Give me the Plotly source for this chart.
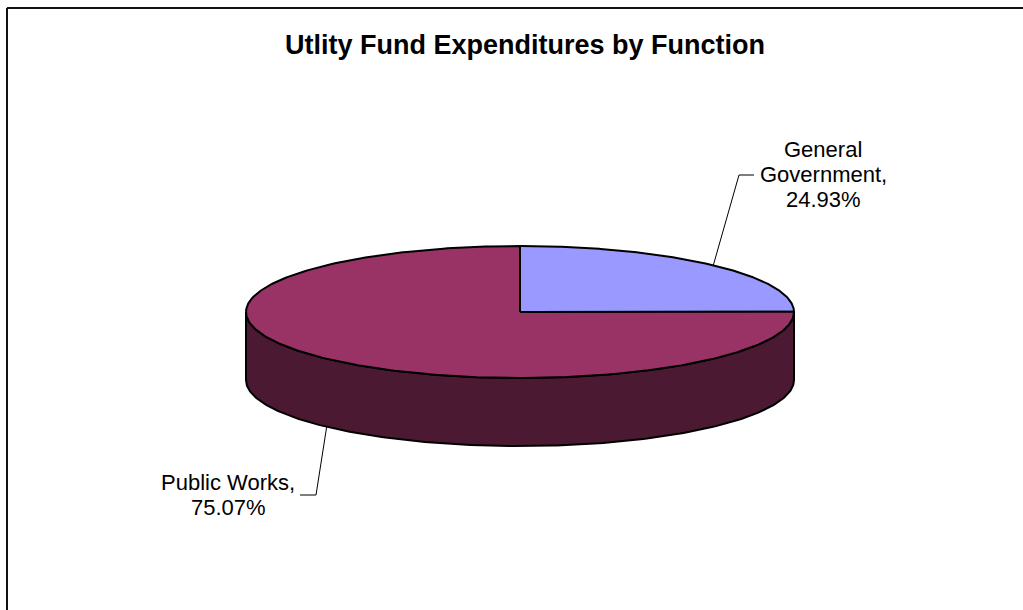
import numpy as np
import plotly.graph_objects as go

# ---- data ----
categories = ["General Government", "Public Works"]
shares = [24.93, 75.07]                      # percent of utility fund expenditures
label_wrap = [["General", "Government"], ["Public Works"]]
top_colors = ["#9999FF", "#993366"]
side_colors = ["#4C4C80", "#4C1933"]
chart_title = "Utlity Fund Expenditures by Function"

# ---- page / pie geometry (pixels) ----
W, H = 1023, 610
CX, CY = 520, 312          # centre of the top face
RX, RY = 274, 66           # radii of the tilted disc
DEPTH = 68                 # thickness of the disc
START_DEG = 90             # first slice starts at 12 o'clock, runs clockwise

FONT = "Liberation Sans, Arial, sans-serif"

# label placement: centre x, line centre ys, leader elbow and leader end
label_layout = [
    dict(x=823, ys=[149, 174, 199], elbow=(739, 175), end=(754, 175), face="top"),
    dict(x=228, ys=[482, 507], elbow=(316, 495), end=(300, 495), face="bottom"),
]


def pt(t_deg, drop=0.0):
    t = np.radians(t_deg)
    return CX + RX * np.cos(t), CY - RY * np.sin(t) + drop


fig = go.Figure()

# slice angle ranges (degrees, decreasing = clockwise)
total = float(sum(shares))
bounds = []
a = START_DEG
for v in shares:
    span = 360.0 * v / total
    bounds.append((a, a - span))
    a -= span

# outer walls: only the front half (sin t <= 0) is visible
for (a0, a1), col in zip(bounds, side_colors):
    for k in (-1, 0, 1):
        lo = max(a1, -180 + 360 * k)
        hi = min(a0, 0 + 360 * k)
        if hi - lo <= 1e-6:
            continue
        ts = np.linspace(hi, lo, 200)
        xs_t, ys_t = pt(ts)
        xs_b, ys_b = pt(ts[::-1], DEPTH)
        xs = np.concatenate([xs_t, xs_b, xs_t[:1]])
        ys = np.concatenate([ys_t, ys_b, ys_t[:1]])
        fig.add_trace(go.Scatter(x=xs, y=ys, mode="lines", fill="toself",
                                 fillcolor=col, line=dict(color="black", width=2),
                                 hoverinfo="skip", showlegend=False))

# top faces
for (a0, a1), col in zip(bounds, top_colors):
    ts = np.linspace(a0, a1, 300)
    ex, ey = pt(ts)
    xs = np.concatenate([[CX], ex, [CX]])
    ys = np.concatenate([[CY], ey, [CY]])
    fig.add_trace(go.Scatter(x=xs, y=ys, mode="lines", fill="toself",
                             fillcolor=col, line=dict(color="black", width=2),
                             hoverinfo="skip", showlegend=False))

# data labels with leader lines to the middle of each slice
annotations = []
for (a0, a1), v, wrap, lay in zip(bounds, shares, label_wrap, label_layout):
    mid = (a0 + a1) / 2.0
    ax_, ay_ = pt(mid, DEPTH if lay["face"] == "bottom" else 0.0)
    fig.add_trace(go.Scatter(x=[ax_, lay["elbow"][0], lay["end"][0]],
                             y=[ay_, lay["elbow"][1], lay["end"][1]],
                             mode="lines", line=dict(color="black", width=1),
                             hoverinfo="skip", showlegend=False))
    lines = wrap[:-1] + [wrap[-1] + ","] + [f"{v:.2f}%"]
    for txt, y in zip(lines, lay["ys"]):
        annotations.append(dict(x=lay["x"], y=y, xref="x", yref="y", text=txt,
                                showarrow=False, xanchor="center", yanchor="middle",
                                font=dict(family=FONT, size=22, color="black")))

annotations.append(dict(x=525, y=45, xref="x", yref="y", text=f"<b>{chart_title}</b>",
                        showarrow=False, xanchor="center", yanchor="middle",
                        font=dict(family=FONT, size=27, color="black")))

# chart frame (only the top and left edges fall inside the page)
shapes = [
    dict(type="line", xref="x", yref="y", x0=7, y0=8, x1=W + 5, y1=8,
         line=dict(color="#111111", width=2)),
    dict(type="line", xref="x", yref="y", x0=7, y0=8, x1=7, y1=H + 5,
         line=dict(color="#111111", width=2)),
]

fig.update_layout(
    width=W, height=H, autosize=False,
    margin=dict(l=0, r=0, t=0, b=0),
    paper_bgcolor="white", plot_bgcolor="white",
    xaxis=dict(range=[0, W], visible=False, fixedrange=True),
    yaxis=dict(range=[H, 0], visible=False, fixedrange=True),
    annotations=annotations, shapes=shapes,
    showlegend=False,
)

fig.write_html("out.html", config={"displayModeBar": False})
